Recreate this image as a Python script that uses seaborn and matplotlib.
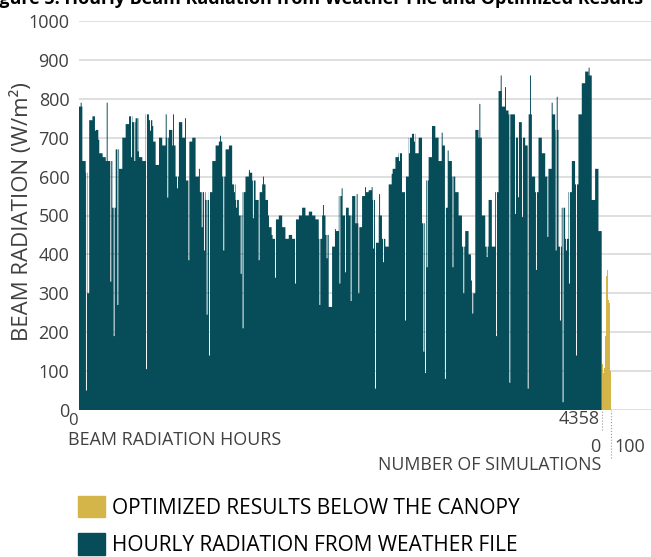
import matplotlib
matplotlib.use("Agg")
import matplotlib.pyplot as plt
from matplotlib.patches import Patch
import numpy as np
import pandas as pd
import seaborn as sns

TEAL = "#074d59"
YELLOW = "#d4b54a"
GRID = "#d9d9d9"
TEXT = "#404040"

TOTAL_HOURS = 4358
N_SIMS = 100

envelope = [
    780, 640, 610, 745, 755, 720, 660, 650, 640, 640,
    520, 670, 620, 700, 735, 755, 740, 750, 650, 640,
    760, 745, 690, 630, 700, 680, 700, 720, 680, 600,
    740, 700, 590, 690, 700, 600, 560, 560, 540, 560,
    640, 680, 690, 600, 670, 680, 580, 540, 500, 560,
    600, 610, 590, 540, 560, 580, 540, 470, 440, 490,
    500, 470, 440, 450, 440, 490, 500, 520, 500, 510,
    500, 490, 440, 500, 450, 265, 420, 460, 550, 500,
    520, 500, 550, 480, 470, 550, 560, 565, 540, 430,
    500, 440, 420, 580, 620, 650, 660, 560, 600, 700,
    710, 660, 700, 480, 590, 650, 730, 700, 640, 680,
    520, 640, 600, 560, 500, 420, 460, 400, 300, 720,
    700, 500, 420, 540, 420, 560, 820, 780, 770, 760,
    760, 700, 740, 700, 680, 760, 600, 560, 700, 660,
    600, 620, 760, 720, 420, 520, 440, 560, 640, 580,
    760, 840, 870, 860, 540, 620, 460,
]

# single hours that break away from the envelope (cloudy drops, clear peaks)
event_hours = [
    14, 58, 70, 77, 133, 161, 189, 231, 261, 289, 320, 434, 461, 489, 559,
    592, 611, 723, 736, 784, 817, 884, 912, 1000, 1023, 1042, 1064, 1084,
    1176, 1203, 1292, 1310, 1348, 1364, 1417, 1450, 1498, 1534, 1576, 1606,
    1634, 1731, 1801, 2004, 2034, 2064, 2134, 2171, 2190, 2218, 2265, 2315,
    2329, 2385, 2440, 2452, 2468, 2502, 2535, 2607, 2668, 2718, 2751, 2793,
    2871, 2885, 2899, 2960, 3024, 3051, 3074, 3114, 3204, 3268, 3279, 3338,
    3399, 3477, 3516, 3552, 3588, 3635, 3660, 3694, 3741, 3760, 3810, 3905,
    3941, 3974, 3983, 4010, 4032, 4060, 4085, 4144, 4249,
]
event_values = [
    790, 50, 300, 300, 718, 695, 660, 790, 330, 190, 270, 650, 640, 665, 105,
    718, 730, 760, 546, 760, 570, 750, 385, 620, 470, 410, 245, 140,
    705, 410, 560, 520, 350, 210, 617, 493, 385, 600, 500, 450,
    340, 440, 325, 270, 527, 390, 465, 325, 570, 354, 280, 555,
    300, 573, 573, 415, 55, 555, 380, 607, 640, 230, 660, 690,
    150, 95, 367, 730, 713, 80, 667, 367, 300, 333, 248, 787,
    393, 190, 860, 830, 70, 504, 547, 496, 55, 860, 360, 445,
    790, 410, 805, 230, 20, 410, 325, 140, 880,
]

# optimized results below the canopy, one value per simulation
sim_values = [
    150, 160, 140, 130, 125, 120, 128, 135, 122, 118,
    115, 110, 105, 100, 98, 95, 102, 108, 112, 104,
    96, 92, 88, 94, 100, 105, 98, 90, 86, 92,
    100, 108, 115, 120, 126, 130, 124, 118, 110, 105,
    112, 130, 160, 190, 220, 250, 270, 290, 300, 310,
    320, 330, 335, 340, 345, 350, 355, 360, 362, 365,
    368, 372, 374, 370, 366, 360, 350, 340, 330, 320,
    310, 300, 295, 290, 288, 286, 284, 282, 285, 288,
    290, 292, 288, 285, 282, 280, 278, 276, 274, 272,
    270, 268, 265, 262, 260, 250, 230, 200, 150, 100,
]

hours = np.arange(TOTAL_HOURS)
radiation = np.array(envelope, dtype=float)[hours * len(envelope) // TOTAL_HOURS]
for h, v in zip(event_hours, event_values):
    radiation[h:h + 8] = v
weather = pd.DataFrame({"hour": hours, "radiation": radiation})
sims = pd.DataFrame({"sim": np.arange(N_SIMS), "radiation": sim_values})

sns.set_theme(style="white")
plt.rcParams["font.family"] = ["Open Sans", "DejaVu Sans"]

W, H = 651, 557
fig = plt.figure(figsize=(W / 100, H / 100), dpi=100)
ax = fig.add_axes([79 / W, 1 - 410 / H, (W - 79) / W, (410 - 21) / H])

# pixel scale: 4358 hours end at x=601.7, 100 sims end at x=610.5
hour_px = (601.7 - 79) / TOTAL_HOURS
sim_px = (610.5 - 601.7) / N_SIMS

ax.stairs(weather["radiation"], np.arange(TOTAL_HOURS + 1), fill=True,
          color=TEAL, linewidth=0)
ax.set_xlim(0, (W - 79) / hour_px)
ax.set_ylim(0, 1000)
ax.set_yticks(range(0, 1001, 100))
ax.tick_params(axis="y", labelsize=13, colors=TEXT, length=0, pad=7)
ax.set_xticks([])
ax.yaxis.grid(True, color=GRID, linewidth=1.2)
ax.set_axisbelow(True)
sns.despine(ax=ax, left=True, bottom=True)

ax_sim = ax.twiny()
ax_sim.stairs(sims["radiation"], np.arange(N_SIMS + 1), fill=True,
              color=YELLOW, linewidth=0)
ax_sim.set_xlim(-(601.7 - 79) / sim_px, (W - 601.7) / sim_px)
ax_sim.set_ylim(0, 1000)
ax_sim.set_xticks([])
for s in ax_sim.spines.values():
    s.set_visible(False)

# dotted leaders under the axis
ax.axvline(TOTAL_HOURS, ymin=-20 / 389, ymax=0, color="#999999", lw=0.8,
           ls=":", clip_on=False)
ax_sim.axvline(N_SIMS, ymin=-48 / 389, ymax=0, color="#999999", lw=0.8,
               ls=":", clip_on=False)

def ftext(x, y, s, **kw):
    fig.text(x / W, 1 - y / H, s, color=TEXT, **kw)

ftext(73, 421, "0", fontsize=12, ha="center", va="center")
ftext(600, 419, str(TOTAL_HOURS), fontsize=13, ha="right", va="center")
ftext(68, 440, "BEAM RADIATION HOURS", fontsize=12.9, ha="left", va="center")
ftext(600, 447, "0", fontsize=13, ha="right", va="center")
ftext(614, 447, str(N_SIMS), fontsize=13, ha="left", va="center")
ftext(601, 465, "NUMBER OF SIMULATIONS", fontsize=12.8, ha="right", va="center")
ftext(22, 212, "BEAM RADIATION (W/m\u00b2)", fontsize=16, rotation=90,
      ha="center", va="center")

# caption of the source figure, cut by the top edge
fig.text(-16 / W, 1 - 4 / H,
         "Figure 5. Hourly Beam Radiation from Weather File and Optimized Results",
         fontsize=13, fontweight="bold", color="black", va="baseline")

fig.legend(handles=[Patch(color=YELLOW), Patch(color=TEAL)],
           labels=["OPTIMIZED RESULTS BELOW THE CANOPY",
                   "HOURLY RADIATION FROM WEATHER FILE"],
           loc="upper left", bbox_to_anchor=(78 / W, 1 - 496 / H),
           borderaxespad=0, borderpad=0,
           frameon=False, fontsize=15, handlelength=1.3, handleheight=1.2,
           handletextpad=0.34, labelspacing=0.7, labelcolor="black")

fig.savefig("out.png", dpi=100)
